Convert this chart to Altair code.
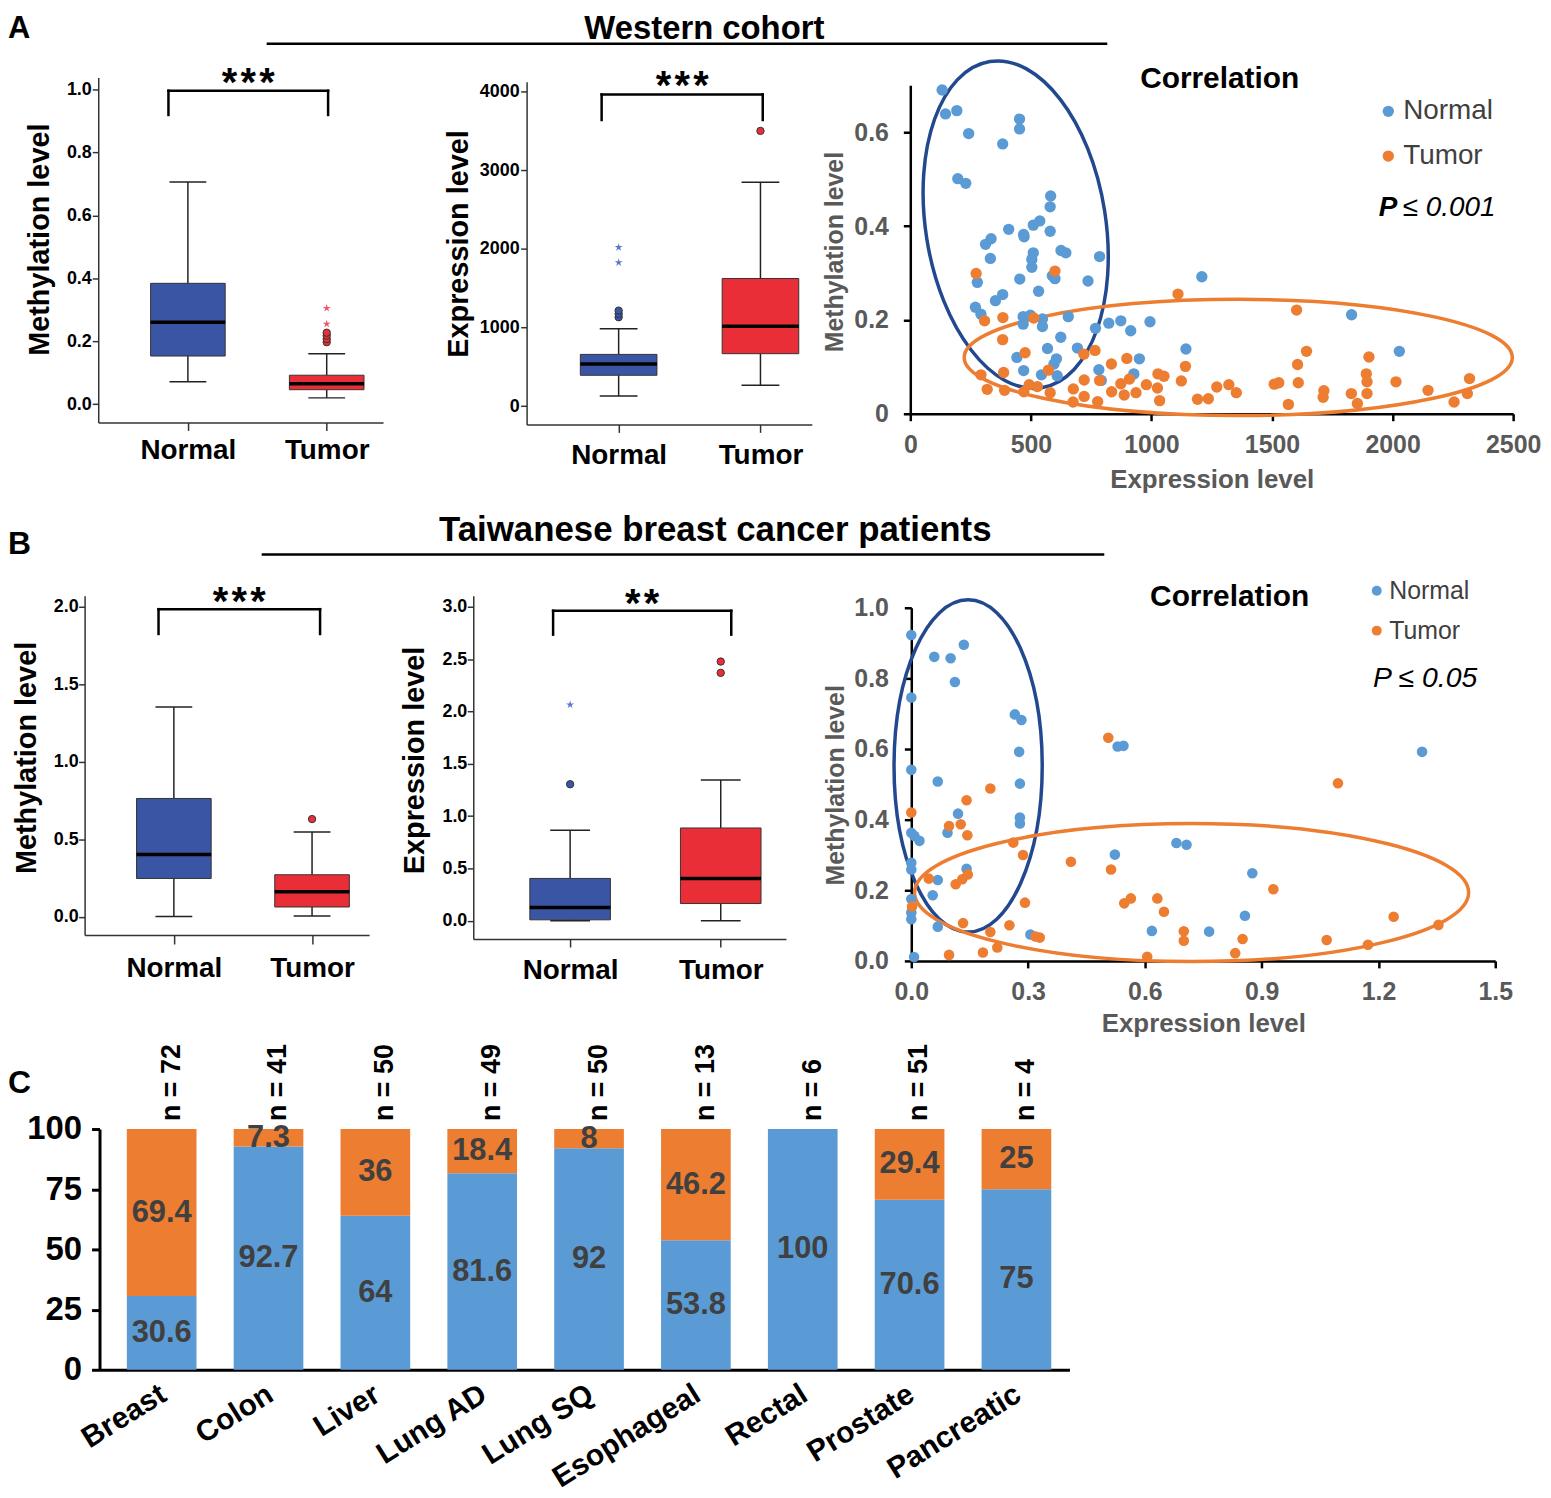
import altair as alt
import pandas as pd

# ------------------------------------------------------------------ data
groups = ["Normal", "Tumor"]
panel_letters = ["A", "B", "C"]
row_titles = ["Western cohort", "Taiwanese breast cancer patients"]
corr_title = "Correlation"
sig_labels = ["***", "***", "***", "**"]

# box-plot summaries: [lower whisker, Q1, median, Q3, upper whisker]
a_meth_normal = [0.071, 0.153, 0.260, 0.384, 0.706]
a_meth_tumor = [0.020, 0.046, 0.065, 0.092, 0.160]
a_meth_tumor_circles = [0.197, 0.207, 0.218, 0.227]
a_meth_tumor_stars = [0.255, 0.305]

a_expr_normal = [127, 392, 536, 658, 983]
a_expr_tumor = [266, 667, 1017, 1624, 2848]
a_expr_normal_circles = [1131, 1173, 1215]
a_expr_normal_stars = [1827, 2021]
a_expr_tumor_circles = [3502]

b_meth_normal = [0.002, 0.248, 0.402, 0.764, 1.354]
b_meth_tumor = [0.006, 0.064, 0.163, 0.272, 0.548]
b_meth_tumor_circles = [0.631]

b_expr_normal = [0.0, 0.0095, 0.127, 0.405, 0.865]
b_expr_tumor = [0.0, 0.165, 0.405, 0.887, 1.346]
b_expr_normal_circles = [1.305]
b_expr_normal_stars = [2.065]
b_expr_tumor_circles = [2.369, 2.477]

# significance brackets: [left x, right x, top y, leg end y, label baseline y]
a_meth_bracket = [0.86, 2.01, 0.996, 0.919, 0.980]
a_expr_bracket = [0.88, 2.016, 3966, 3641, 3902]
b_meth_bracket = [0.889, 2.058, 1.985, 1.825, 1.945]
b_expr_bracket = [0.887, 2.07, 2.962, 2.734, 2.906]

# scatter, Western cohort (expression, methylation)
a_norm_expr = [132, 146, 193, 242, 383, 453, 453, 197, 230, 582, 580, 408, 510, 537, 580, 470, 472, 335, 312, 332,
               510, 504, 504, 625, 645, 785, 278, 454, 589, 600, 737, 532, 353, 383, 270, 293, 468, 468, 498, 548,
               548, 655, 768, 823, 873, 914, 994, 1209, 624, 569, 693, 606, 596, 442, 782, 950, 927, 1143, 470, 544,
               609, 792, 1830, 2028]
a_norm_meth = [0.690, 0.639, 0.646, 0.597, 0.575, 0.628, 0.607, 0.501, 0.491, 0.464, 0.441, 0.393, 0.402, 0.411,
               0.389, 0.382, 0.377, 0.373, 0.361, 0.331, 0.343, 0.329, 0.312, 0.348, 0.343, 0.335, 0.280, 0.287,
               0.294, 0.288, 0.283, 0.261, 0.241, 0.254, 0.227, 0.212, 0.207, 0.191, 0.210, 0.202, 0.186, 0.207,
               0.182, 0.193, 0.198, 0.177, 0.196, 0.292, 0.163, 0.139, 0.140, 0.117, 0.106, 0.120, 0.094, 0.117,
               0.085, 0.138, 0.092, 0.083, 0.081, 0.071, 0.211, 0.133]
a_tum_expr = [273, 600, 308, 384, 512, 383, 476, 573, 720, 766, 834, 898, 1110, 1141, 1124, 1027, 1052, 293, 387,
              319, 391, 471, 493, 527, 580, 676, 675, 721, 721, 785, 777, 835, 873, 887, 909, 936, 979, 1025, 1034,
              1191, 1236, 1271, 1321, 1352, 1509, 1528, 1568, 1602, 1606, 1643, 1609, 1715, 1712, 1829, 1854, 1891,
              1894, 1894, 1902, 2014, 2147, 2255, 2310, 2319]
a_tum_meth = [0.299, 0.304, 0.198, 0.205, 0.204, 0.158, 0.130, 0.093, 0.127, 0.135, 0.106, 0.118, 0.255, 0.101,
              0.070, 0.085, 0.080, 0.083, 0.088, 0.052, 0.050, 0.047, 0.062, 0.058, 0.045, 0.053, 0.025, 0.072,
              0.037, 0.071, 0.026, 0.047, 0.064, 0.040, 0.074, 0.045, 0.062, 0.055, 0.028, 0.031, 0.032, 0.057,
              0.062, 0.045, 0.063, 0.066, 0.020, 0.221, 0.105, 0.133, 0.066, 0.049, 0.035, 0.043, 0.022, 0.085,
              0.068, 0.043, 0.121, 0.068, 0.050, 0.025, 0.043, 0.075]

# scatter, Taiwanese patients
b_norm_expr = [0, 0.059, 0.101, 0.135, 0.112, 0, 0.266, 0.283, 0.277, 0.279, 0, 0.068, 0.120, 0.279, 0.279, 0,
               0.008, 0.021, 0.093, 0, 0, 0.142, 0.068, 0.055, 0, 0, 0, 0.068, 0.306, 0.007, 0.530, 0.545, 1.312,
               0.523, 0.681, 0.707, 0.876, 0.857, 0.618, 0.765]
b_norm_meth = [0.923, 0.861, 0.857, 0.895, 0.790, 0.746, 0.698, 0.682, 0.592, 0.502, 0.541, 0.508, 0.417, 0.406,
               0.389, 0.363, 0.354, 0.340, 0.363, 0.278, 0.259, 0.261, 0.229, 0.186, 0.175, 0.137, 0.118, 0.097,
               0.075, 0.011, 0.607, 0.609, 0.592, 0.301, 0.334, 0.329, 0.248, 0.128, 0.085, 0.083]
b_tum_expr = [0, 0.142, 0.203, 0.097, 0.127, 0.144, 0.262, 0.287, 0.045, 0.114, 0.131, 0.145, 0.002, 0.292, 0.133,
              0.203, 0.252, 0.221, 0.184, 0.097, 0.330, 0.319, 0.410, 0.506, 0.513, 1.096, 0.930, 0.547, 0.564,
              0.632, 0.649, 0.700, 0.700, 0.606, 0.832, 0.851, 1.067, 1.173, 1.239, 1.354]
b_tum_meth = [0.420, 0.455, 0.488, 0.382, 0.387, 0.356, 0.335, 0.300, 0.233, 0.217, 0.231, 0.245, 0.154, 0.165,
              0.107, 0.082, 0.101, 0.038, 0.024, 0.017, 0.066, 0.069, 0.281, 0.632, 0.259, 0.503, 0.203, 0.163,
              0.177, 0.177, 0.139, 0.084, 0.057, 0.012, 0.022, 0.062, 0.059, 0.046, 0.125, 0.102]

# annotation ellipse centres (expression, methylation)
a_ellipse_centres = [(437, 0.403), (1360, 0.120)]
b_ellipse_centres = [(0.146, 0.552), (0.720, 0.1935)]

# panel C
cancers = ["Breast", "Colon", "Liver", "Lung AD", "Lung SQ", "Esophageal", "Rectal", "Prostate", "Pancreatic"]
normal_pct = [30.6, 92.7, 64, 81.6, 92, 53.8, 100, 70.6, 75]
tumor_pct = [69.4, 7.3, 36, 18.4, 8, 46.2, 0, 29.4, 25]
n_counts = [72, 41, 50, 49, 50, 13, 6, 51, 4]

# ------------------------------------------------------------------ layout / style
W, H = 1543, 1489
OX = OY = 8
FONT = "Liberation Sans, Arial, sans-serif"
AX = "#333333"
BOX_FILL = {"Normal": "#3b55a5", "Tumor": "#ea2e38"}
STAR_FILL = {"Normal": "#5b78d2", "Tumor": "#f2566e"}
SC_BLUE, SC_ORANGE = "#5b9bd5", "#ed7d31"
NAVY = "#22488f"
GRAY = "#595959"

STAR = ("M0,-1L0.2245,-0.309L0.951,-0.309L0.363,0.118L0.588,0.809L0,0.382"
        "L-0.588,0.809L-0.363,0.118L-0.951,-0.309L-0.2245,-0.309Z")


def px(v):
    return v - OX


def py(v):
    return v - OY


def ellipse_path(a, b):
    k = 0.5523
    f = lambda v: f"{v:.4f}"
    return (f"M{f(a)},0C{f(a)},{f(b*k)} {f(a*k)},{f(b)} 0,{f(b)}"
            f"C{f(-a*k)},{f(b)} {f(-a)},{f(b*k)} {f(-a)},0"
            f"C{f(-a)},{f(-b*k)} {f(-a*k)},{f(-b)} 0,{f(-b)}"
            f"C{f(a*k)},{f(-b)} {f(a)},{f(-b*k)} {f(a)},0Z")


def box_panel(normal, tumor, outliers, bracket, sig, fr):
    stats = pd.DataFrame({
        "grp": groups, "pos": [1, 2],
        "lo": [normal[0], tumor[0]], "q1": [normal[1], tumor[1]], "med": [normal[2], tumor[2]],
        "q3": [normal[3], tumor[3]], "hi": [normal[4], tumor[4]],
    })
    rows = []
    for grp, kind, vals in outliers:
        for v in vals:
            rows.append({"grp": grp, "pos": groups.index(grp) + 1, "val": v, "kind": kind})
    outl = pd.DataFrame(rows, columns=["grp", "pos", "val", "kind"])
    brk = pd.DataFrame({"xl": [bracket[0]], "xr": [bracket[1]], "yt": [bracket[2]], "yb": [bracket[3]],
                        "ys": [bracket[4]], "sig": ["\u200a".join(list(sig))]})

    xs = alt.Scale(domain=fr["xdom"], range=[px(fr["left"]), px(fr["right"])], nice=False, zero=False)
    ys = alt.Scale(domain=fr["ydom"], range=[py(fr["bottom"]), py(fr["top"])], nice=False, zero=False)
    xax = alt.Axis(orient="bottom", offset=py(fr["bottom"]) - H, values=[1, 2],
                   labelExpr="datum.value == 1 ? '%s' : '%s'" % (groups[0], groups[1]),
                   labelFont=FONT, labelFontSize=28, labelFontWeight="bold", labelColor="black",
                   labelPadding=fr["xlabpad"], tickSize=fr["xtick"], tickColor=AX, tickWidth=1.5,
                   domainColor=AX, domainWidth=1.5, grid=False, title=None, labelLimit=400,
                   labelFlush=False)
    yax = alt.Axis(orient="left", offset=-px(fr["left"]), values=fr["yticks"], format=fr["yfmt"],
                   labelFont=FONT, labelFontSize=18, labelFontWeight="bold", labelColor="black",
                   labelPadding=fr["ylabpad"], tickSize=6, tickColor=AX, tickWidth=1.5,
                   domainColor=AX, domainWidth=1.5, grid=False,
                   title=fr["ytitle"], titleFont=FONT, titleFontSize=29, titleFontWeight="bold",
                   titleColor="black", titleX=fr["titlex"] - fr["left"], titleY=py(fr["titley"]),
                   titleLimit=1000)

    def X(f):
        return alt.X(f"{f}:Q", scale=xs, axis=xax)

    def Y(f):
        return alt.Y(f"{f}:Q", scale=ys, axis=yax)

    fill_cond = alt.condition(f"datum.grp == '{groups[0]}'", alt.value(BOX_FILL["Normal"]),
                              alt.value(BOX_FILL["Tumor"]))
    star_cond = alt.condition(f"datum.grp == '{groups[0]}'", alt.value(STAR_FILL["Normal"]),
                              alt.value(STAR_FILL["Tumor"]))
    base = alt.Chart(stats)
    layers = [
        base.mark_rule(color="#222222", strokeWidth=1.5).encode(x=X("pos"), y=Y("q3"), y2="hi"),
        base.mark_rule(color="#222222", strokeWidth=1.5).encode(x=X("pos"), y=Y("lo"), y2="q1"),
        base.mark_tick(orient="horizontal", size=fr["capw"], thickness=1.5, color="#222222", opacity=1)
            .encode(x=X("pos"), y=Y("hi")),
        base.mark_tick(orient="horizontal", size=fr["capw"], thickness=1.5, color="#222222", opacity=1)
            .encode(x=X("pos"), y=Y("lo")),
        base.mark_bar(size=fr["boxw"], stroke="#333333", strokeWidth=1, opacity=1)
            .encode(x=X("pos"), y=Y("q1"), y2="q3", fill=fill_cond),
        base.mark_tick(orient="horizontal", size=fr["boxw"], thickness=3.5, color="black", opacity=1)
            .encode(x=X("pos"), y=Y("med")),
    ]
    circ = outl[outl.kind == "circle"]
    if len(circ):
        layers.append(alt.Chart(circ).mark_point(filled=True, size=55, stroke="#333333", strokeWidth=1,
                                                 opacity=1).encode(x=X("pos"), y=Y("val"), fill=fill_cond))
    st = outl[outl.kind == "star"]
    if len(st):
        layers.append(alt.Chart(st).mark_point(shape=STAR, filled=True, size=70, opacity=1)
                      .encode(x=X("pos"), y=Y("val"), fill=star_cond))
    bk = alt.Chart(brk)
    layers += [
        bk.mark_rule(color="black", strokeWidth=2.5, strokeCap="square").encode(x=X("xl"), x2="xr", y=Y("yt")),
        bk.mark_rule(color="black", strokeWidth=2.5, strokeCap="square").encode(x=X("xl"), y=Y("yt"), y2="yb"),
        bk.mark_rule(color="black", strokeWidth=2.5, strokeCap="square").encode(x=X("xr"), y=Y("yt"), y2="yb"),
        bk.transform_calculate(xm="(datum.xl + datum.xr) / 2")
          .mark_text(font=FONT, fontSize=40, fontWeight="bold", baseline="alphabetic", color="black")
          .encode(x=X("xm"), y=Y("ys"), text="sig:N"),
    ]
    return alt.layer(*layers)


def scatter_panel(nx, ny, tx, ty, centres, ell_specs, fr, leg):
    df = pd.DataFrame({"expr": nx + tx, "meth": ny + ty,
                       "grp": [groups[0]] * len(nx) + [groups[1]] * len(tx)})
    xs = alt.Scale(domain=fr["xdom"], range=[px(fr["left"]), px(fr["right"])], nice=False, zero=False)
    ys = alt.Scale(domain=fr["ydom"], range=[py(fr["bottom"]), py(fr["top"])], nice=False, zero=False)
    common = dict(labelFont=FONT, labelFontSize=25, labelFontWeight="bold", labelColor=GRAY,
                  tickColor="black", tickWidth=2.5, tickSize=7, domainColor="black", domainWidth=2.5,
                  grid=False, titleFont=FONT, titleFontWeight="bold", titleColor=GRAY, titleLimit=1000,
                  labelFlush=False)
    xax = alt.Axis(orient="bottom", offset=py(fr["bottom"]) - H, values=fr["xticks"], format=fr["xfmt"],
                   labelPadding=fr["xlabpad"], title="Expression level", titleFontSize=26,
                   titleX=(px(fr["left"]) + px(fr["right"])) / 2, titleY=fr["xtitley"] - fr["bottom"],
                   **common)
    yax = alt.Axis(orient="left", offset=-px(fr["left"]), values=fr["yticks"], labelExpr=fr["ylabexpr"],
                   labelPadding=fr["ylabpad"], title="Methylation level", titleFontSize=25,
                   titleX=fr["ytitlex"] - fr["left"], titleY=py(fr["ytitley"]), **common)

    def X(f):
        return alt.X(f"{f}:Q", scale=xs, axis=xax)

    def Y(f):
        return alt.Y(f"{f}:Q", scale=ys, axis=yax)

    layers = []
    for (cx, cy), (shape, size, ang, col) in zip(centres, ell_specs):
        layers.append(alt.Chart(pd.DataFrame({"expr": [cx], "meth": [cy]}))
                      .mark_point(shape=shape, size=size, angle=ang, filled=False, color=col,
                                  strokeWidth=3.5, opacity=1)
                      .encode(x=X("expr"), y=Y("meth")))
    layers.append(alt.Chart(df).mark_circle(size=leg["psize"], opacity=1).encode(
        x=X("expr"), y=Y("meth"),
        color=alt.Color("grp:N", scale=alt.Scale(domain=groups, range=[SC_BLUE, SC_ORANGE]),
                        legend=alt.Legend(orient="none", direction="vertical", legendX=leg["x"],
                                          legendY=leg["y"], title=None, labelFont=FONT,
                                          labelFontSize=leg["fs"], labelColor="#404040",
                                          symbolType="circle", symbolSize=leg["ssize"],
                                          symbolOpacity=1, rowPadding=leg["rowpad"],
                                          labelOffset=leg["laboff"]))))
    return alt.layer(*layers)


def bar_panel():
    rows = []
    for i, c in enumerate(cancers):
        rows.append({"cancer": c, "status": groups[0], "pct": normal_pct[i], "ord": 0})
        rows.append({"cancer": c, "status": groups[1], "pct": tumor_pct[i], "ord": 1})
    df = pd.DataFrame(rows)
    ndf = pd.DataFrame({"cancer": cancers, "n": n_counts})
    xs = alt.Scale(domain=cancers, range=[px(100), px(1075)], paddingInner=0.348, paddingOuter=0.213,
                   align=0.6)
    ys = alt.Scale(domain=[0, 100], range=[py(1373), py(1131)], nice=False, zero=False)
    xax = alt.Axis(orient="bottom", offset=py(1373) - H, labelAngle=-32, labelAlign="right",
                   labelBaseline="top", labelFont=FONT, labelFontSize=30, labelFontWeight="bold",
                   labelColor="black", labelPadding=9, labelOffset=-6, ticks=False, tickSize=0,
                   domainColor="black", domainWidth=3, title=None, labelLimit=600, labelOverlap=False,
                   grid=False)
    yax = alt.Axis(orient="left", offset=-px(100), values=[0, 25, 50, 75, 100], labelFont=FONT,
                   labelFontSize=33, labelFontWeight="bold", labelColor="black", labelPadding=10,
                   tickSize=8, tickWidth=3, tickColor="black", domainColor="black", domainWidth=3,
                   title=None, grid=False)
    X = alt.X("cancer:N", scale=xs, axis=xax, sort=cancers)
    bars = alt.Chart(df).mark_bar(opacity=1).encode(
        x=X, y=alt.Y("pct:Q", scale=ys, axis=yax, stack="zero"),
        color=alt.Color("status:N", scale=alt.Scale(domain=groups, range=[SC_BLUE, SC_ORANGE]), legend=None),
        order=alt.Order("ord:Q"))
    vals = (alt.Chart(df)
            .transform_filter("datum.pct > 0")
            .transform_stack(stack="pct", groupby=["cancer"], as_=["y0", "y1"],
                             sort=[alt.SortField("ord", "ascending")])
            .transform_calculate(ymid="(datum.y0 + datum.y1) / 2",
                                 lab="datum.pct % 1 == 0 ? format(datum.pct, 'd') : format(datum.pct, '.1f')")
            .mark_text(font=FONT, fontSize=31, fontWeight="bold", color="#404040", baseline="middle")
            .encode(x=X, y=alt.Y("ymid:Q", scale=ys, axis=yax), text="lab:N"))
    ns = (alt.Chart(df)
          .transform_aggregate(top="sum(pct)", groupby=["cancer"])
          .transform_lookup(lookup="cancer", from_=alt.LookupData(data=ndf, key="cancer", fields=["n"]))
          .transform_calculate(lab="'n = ' + datum.n")
          .mark_text(angle=270, align="left", baseline="middle", dx=8, dy=10, font=FONT, fontSize=27,
                     fontWeight="bold", color="black")
          .encode(x=X, y=alt.Y("top:Q", scale=ys, axis=yax), text="lab:N"))
    return alt.layer(bars, vals, ns)


def note(text, x, y, size, weight="bold", style="normal", color="black", align="left"):
    return alt.Chart(pd.DataFrame({"t": [text]})).mark_text(
        align=align, baseline="alphabetic", font=FONT, fontSize=size, fontWeight=weight,
        fontStyle=style, color=color).encode(x=alt.value(px(x)), y=alt.value(py(y)), text="t:N")


def hline(x1, x2, y, w=2.5):
    return alt.Chart(pd.DataFrame({"k": [0]})).mark_rule(color="black", strokeWidth=w).encode(
        x=alt.value(px(x1)), x2=alt.value(px(x2)), y=alt.value(py(y)))


# ------------------------------------------------------------------ panels
A1 = box_panel(a_meth_normal, a_meth_tumor,
               [("Tumor", "circle", a_meth_tumor_circles), ("Tumor", "star", a_meth_tumor_stars)],
               a_meth_bracket, sig_labels[0],
               dict(xdom=[0.39, 2.37], left=98.7, right=385, ydom=[-0.058, 1.038], top=74, bottom=420.7,
                    yticks=[0, 0.2, 0.4, 0.6, 0.8, 1.0], yfmt=".1f", ytitle="Methylation level",
                    titlex=54.5, titley=236.5, xlabpad=6, xtick=8, ylabpad=1, boxw=75, capw=37))
A2 = box_panel(a_expr_normal, a_expr_tumor,
               [("Normal", "circle", a_expr_normal_circles), ("Normal", "star", a_expr_normal_stars),
                ("Tumor", "circle", a_expr_tumor_circles)],
               a_expr_bracket, sig_labels[1],
               dict(xdom=[0.386, 2.327], left=529.3, right=816, ydom=[-233, 4127], top=78.3, bottom=422.7,
                    yticks=[0, 1000, 2000, 3000, 4000], yfmt="d", ytitle="Expression level",
                    titlex=476, titley=240.8, xlabpad=9, xtick=8, ylabpad=1.5, boxw=77, capw=38))
B1 = box_panel(b_meth_normal, b_meth_tumor, [("Tumor", "circle", b_meth_tumor_circles)],
               b_meth_bracket, sig_labels[2],
               dict(xdom=[0.39, 2.377], left=85, right=371, ydom=[-0.117, 2.071], top=595, bottom=936,
                    yticks=[0, 0.5, 1.0, 1.5, 2.0], yfmt=".1f", ytitle="Methylation level",
                    titlex=41.5, titley=757.5, xlabpad=10.5, xtick=9, ylabpad=0.5, boxw=75, capw=37))
B2 = box_panel(b_expr_normal, b_expr_tumor,
               [("Normal", "circle", b_expr_normal_circles), ("Normal", "star", b_expr_normal_stars),
                ("Tumor", "circle", b_expr_tumor_circles)],
               b_expr_bracket, sig_labels[3],
               dict(xdom=[0.39, 2.40], left=475.7, right=790, ydom=[-0.174, 3.105], top=595, bottom=940,
                    yticks=[0, 0.5, 1.0, 1.5, 2.0, 2.5, 3.0], yfmt=".1f", ytitle="Expression level",
                    titlex=431.5, titley=760, xlabpad=10, xtick=8, ylabpad=0.5, boxw=81, capw=40))

A3 = scatter_panel(a_norm_expr, a_norm_meth, a_tum_expr, a_tum_meth, a_ellipse_centres,
                   [(ellipse_path(0.545, 1.0), 332 ** 2, 351, NAVY),
                    (ellipse_path(1.0, 0.212), 551 ** 2, 0, SC_ORANGE)],
                   dict(xdom=[0, 2500], left=915, right=1521, ydom=[0, 0.7], bottom=412, top=81.8,
                        xticks=[0, 500, 1000, 1500, 2000, 2500], xfmt="d", xlabpad=12, xtitley=465,
                        yticks=[0, 0.2, 0.4, 0.6],
                        ylabexpr="datum.value == 0 ? '0' : format(datum.value, '.1f')",
                        ylabpad=15, ytitlex=852, ytitley=249),
                   dict(psize=130, x=px(1381.5), y=py(94), fs=28, ssize=130, rowpad=17, laboff=1))
B3 = scatter_panel(b_norm_expr, b_norm_meth, b_tum_expr, b_tum_meth, b_ellipse_centres,
                   [(ellipse_path(0.446, 1.0), 334 ** 2, 0, NAVY),
                    (ellipse_path(1.0, 0.249), 557 ** 2, 0, SC_ORANGE)],
                   dict(xdom=[0, 1.5], left=916, right=1503, ydom=[0, 1.0], bottom=962, top=607,
                        xticks=[0, 0.3, 0.6, 0.9, 1.2, 1.5], xfmt=".1f", xlabpad=12, xtitley=1012,
                        yticks=[0, 0.2, 0.4, 0.6, 0.8, 1.0],
                        ylabexpr="format(datum.value, '.1f')",
                        ylabpad=16, ytitlex=853, ytitley=785),
                   dict(psize=113, x=px(1371.4), y=py(577.5), fs=25, ssize=100, rowpad=14, laboff=0))

C = bar_panel()

notes = alt.layer(
    note(panel_letters[0], 8, 34, 31),
    note(panel_letters[1], 8, 553, 32),
    note(panel_letters[2], 8, 1095, 32),
    note(row_titles[0], 708, 35, 33, align="center"),
    hline(268, 1113, 40),
    note(row_titles[1], 719, 540, 35, align="center"),
    hline(263, 1110, 553.5),
    note(corr_title, 1226, 85, 30, align="center"),
    note(corr_title, 1236, 605, 30, align="center"),
    note("P", 1386, 213, 28, weight="bold", style="italic"),
    note("\u2264 0.001", 1410, 213, 28, weight="normal", style="italic"),
    note("P \u2264 0.05", 1380, 687, 28.5, weight="normal", style="italic"),
)

chart = (alt.layer(notes, A1, A2, A3, B1, B2, B3, C)
         .resolve_scale(x="independent", y="independent", color="independent")
         .resolve_axis(x="independent", y="independent")
         .resolve_legend(color="independent")
         .properties(width=W, height=H, padding=0, autosize=alt.AutoSizeParams(type="none"))
         .configure(font=FONT)
         .configure_view(strokeWidth=0))

chart.save("out.html", embed_options={"renderer": "svg", "actions": False})
